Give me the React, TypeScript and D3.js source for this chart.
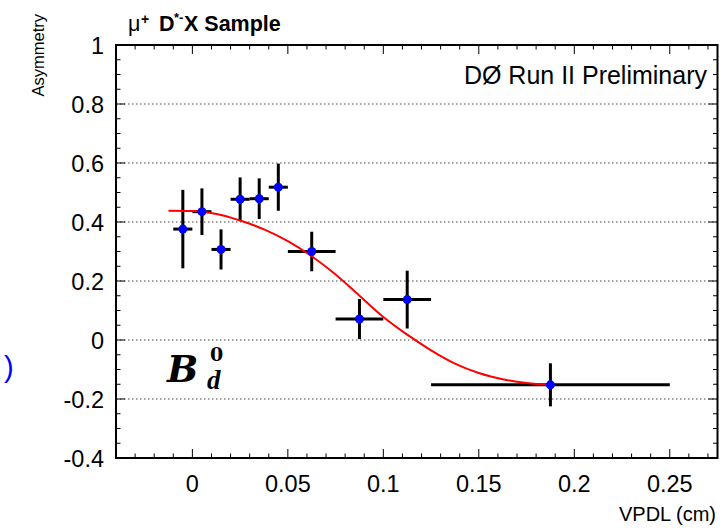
import React from "react";
import * as d3 from "d3";

const binLow = [-0.01, 0.0, 0.01, 0.02, 0.03, 0.04, 0.05, 0.075, 0.1, 0.125];
const binHigh = [0.0, 0.01, 0.02, 0.03, 0.04, 0.05, 0.075, 0.1, 0.125, 0.25];
const asym = [0.376, 0.435, 0.307, 0.477, 0.479, 0.518, 0.3, 0.071, 0.137, -0.152];
const asymErr = [0.133, 0.079, 0.068, 0.074, 0.069, 0.08, 0.067, 0.068, 0.098, 0.073];

const fitX = [-0.0125, 0.0, 0.0125, 0.025, 0.0375, 0.05, 0.0625, 0.075, 0.0875, 0.1, 0.1125, 0.125, 0.1375, 0.15, 0.1625, 0.175, 0.1875];
const fitY = [0.438, 0.437, 0.427, 0.405, 0.375, 0.335, 0.284, 0.222, 0.15, 0.078, 0.018, -0.035, -0.08, -0.112, -0.133, -0.146, -0.152];

const xTickVals = [0, 0.05, 0.1, 0.15, 0.2, 0.25];
const xTickLabels = ["0", "0.05", "0.1", "0.15", "0.2", "0.25"];
const yTickVals = [-0.4, -0.2, 0, 0.2, 0.4, 0.6, 0.8, 1];
const yTickLabels = ["-0.4", "-0.2", "0", "0.2", "0.4", "0.6", "0.8", "1"];

const L = 116, R = 717.5, T = 45, B = 458;
const SANS = "'Liberation Sans', Arial, Helvetica, sans-serif";

export default function App() {
  const x = d3.scaleLinear().domain([-0.04, 0.275]).range([L, R]);
  const y = d3.scaleLinear().domain([-0.4, 1]).range([B, T]);

  const xMinor = d3.range(-0.04, 0.2751, 0.01).map((v) => +v.toFixed(3));
  const yMinor = d3.range(-0.4, 1.0001, 0.05).map((v) => +v.toFixed(3));
  const isMajorX = (v: number) => Math.abs(v / 0.05 - Math.round(v / 0.05)) < 1e-6;
  const isMajorY = (v: number) => Math.abs(v / 0.2 - Math.round(v / 0.2)) < 1e-6;

  const line = d3
    .line<number>()
    .x((_, i) => x(fitX[i]))
    .y((d) => y(d))
    .curve(d3.curveMonotoneX);

  return (
    <svg width={728} height={531} style={{ position: "absolute", left: 0, top: 0, background: "#fff" }}>
      <rect x={0} y={0} width={728} height={531} fill="#fff" />
      {/* grid */}
      {yTickVals
        .filter((v) => v > -0.4 && v < 1)
        .map((v) => (
          <line key={"g" + v} x1={L} x2={R} y1={y(v)} y2={y(v)} stroke="#444" strokeWidth={1} strokeDasharray="1.5 2.5" />
        ))}
      {/* ticks */}
      {xMinor.map((v) => {
        const len = isMajorX(v) ? 9 : 4.5;
        return (
          <g key={"xt" + v}>
            <line x1={x(v)} x2={x(v)} y1={B} y2={B - len} stroke="#000" strokeWidth={1} />
            <line x1={x(v)} x2={x(v)} y1={T} y2={T + len} stroke="#000" strokeWidth={1} />
          </g>
        );
      })}
      {yMinor.map((v) => {
        const len = isMajorY(v) ? 9 : 4.5;
        return (
          <g key={"yt" + v}>
            <line x1={L} x2={L + len} y1={y(v)} y2={y(v)} stroke="#000" strokeWidth={1} />
            <line x1={R} x2={R - len} y1={y(v)} y2={y(v)} stroke="#000" strokeWidth={1} />
          </g>
        );
      })}
      {/* frame */}
      <rect x={L} y={T} width={R - L} height={B - T} fill="none" stroke="#000" strokeWidth={2} />
      {/* tick labels */}
      {xTickVals.map((v, i) => (
        <text key={"xl" + v} x={x(v)} y={492} textAnchor="middle" fontFamily={SANS} fontSize={23.5}>
          {xTickLabels[i]}
        </text>
      ))}
      {yTickVals.map((v, i) => (
        <text key={"yl" + v} x={104} y={y(v) + 8.5} textAnchor="end" fontFamily={SANS} fontSize={23.5}>
          {yTickLabels[i]}
        </text>
      ))}
      {/* axis titles */}
      <text x={716} y={521} textAnchor="end" fontFamily={SANS} fontSize={20}>
        VPDL (cm)
      </text>
      <text transform="translate(44,14) rotate(-90)" textAnchor="end" fontFamily={SANS} fontSize={16.5}>
        Asymmetry
      </text>
      {/* title */}
      <text y={31} fontFamily={SANS} fontSize={21.5} fontWeight="bold">
        <tspan x={128} fontWeight="normal">μ</tspan>
        <tspan x={141} dy={-7} fontSize={14}>+</tspan>
        <tspan x={159} dy={7}>D</tspan>
        <tspan x={174} dy={-9} fontSize={13}>*-</tspan>
        <tspan x={184} dy={9}>X Sample</tspan>
      </text>
      <text x={707} y={84} textAnchor="end" fontFamily={SANS} fontSize={25}>
        DØ Run II Preliminary
      </text>
      {/* B_d^0 */}
      <text x={167} y={382} fontFamily="'DejaVu Serif', 'Liberation Serif', serif" fontSize={37} fontWeight="bold" fontStyle="italic">
        B
      </text>
      <text x={210} y={361} fontFamily="'DejaVu Serif', 'Liberation Serif', serif" fontSize={19} fontWeight="bold">
        0
      </text>
      <text x={207} y={389} fontFamily="'Liberation Serif', serif" fontSize={27} fontWeight="bold" fontStyle="italic">
        d
      </text>
      {/* stray blue paren */}
      <text x={4} y={377} fontFamily={SANS} fontSize={29} fill="#0000ff">
        )
      </text>
      {/* error bars */}
      {asym.map((a, i) => {
        const xc = (binLow[i] + binHigh[i]) / 2;
        return (
          <g key={"e" + i} stroke="#000" strokeWidth={3}>
            <line x1={x(binLow[i])} x2={x(binHigh[i])} y1={y(a)} y2={y(a)} />
            <line x1={x(xc)} x2={x(xc)} y1={y(a - asymErr[i])} y2={y(a + asymErr[i])} />
          </g>
        );
      })}
      {/* fit */}
      <path d={line(fitY) || ""} fill="none" stroke="#ff0000" strokeWidth={2} />
      {/* markers */}
      {asym.map((a, i) => {
        const xc = (binLow[i] + binHigh[i]) / 2;
        return <circle key={"m" + i} cx={x(xc)} cy={y(a)} r={4.5} fill="#0000ff" />;
      })}
    </svg>
  );
}
